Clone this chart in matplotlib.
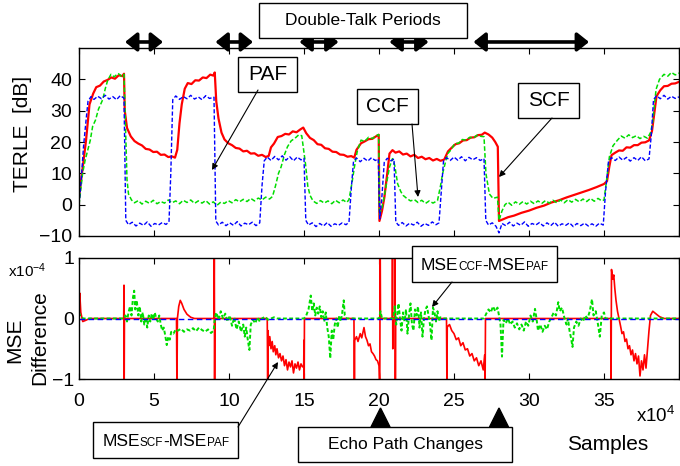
import numpy as np
import matplotlib
matplotlib.use('Agg')
import matplotlib.pyplot as plt
from matplotlib.patches import Rectangle, FancyArrowPatch, Polygon
from matplotlib.offsetbox import TextArea, HPacker, AnnotationBbox

W, H = 680, 466

# TERLE [dB] vs samples (x1e4)
scf_terle = [(0, 2.5), (0.2, 10), (0.47, 20.6), (0.7, 32), (0.95, 35.5), (1.15, 37.5), (1.4, 38.0), (1.65, 39.3),
             (1.9, 39.8), (2.15, 40.6), (2.4, 40.2), (2.65, 41.3), (2.9, 41.0), (3.0, 41.8),
             (3.05, 30), (3.2, 24.5), (3.45, 21.8), (3.7, 20.3), (3.95, 19.5), (4.2, 18.9), (4.45, 17.8), (4.7, 17.6),
             (4.95, 16.8), (5.2, 16.9), (5.45, 15.9), (5.7, 16.0), (5.95, 15.2), (6.2, 15.4), (6.4, 15.0),
             (6.55, 17.5), (6.7, 26), (6.85, 32), (7.05, 37.0), (7.25, 38.8), (7.5, 38.5), (7.75, 39.7), (8.0, 39.6),
             (8.25, 40.6), (8.5, 40.4), (8.75, 41.5), (8.95, 41.2), (9.05, 42.2),
             (9.15, 33), (9.3, 27.5), (9.5, 23), (9.7, 20.8), (9.95, 19.6), (10.2, 19.0), (10.45, 18.1), (10.7, 17.9),
             (10.95, 17.0), (11.2, 17.2), (11.45, 16.3), (11.7, 16.4), (11.95, 15.6), (12.2, 15.9), (12.45, 15.2), (12.65, 15.6),
             (12.8, 18.3), (13.0, 19.5), (13.25, 21.6), (13.5, 21.9), (13.75, 22.6), (14.0, 22.4), (14.25, 23.4), (14.5, 23.1),
             (14.75, 24.0), (14.95, 24.6),
             (15.15, 22.8), (15.4, 21.3), (15.65, 20.6), (15.9, 19.3), (16.15, 19.1), (16.4, 18.0), (16.65, 17.8), (16.9, 16.9),
             (17.15, 16.8), (17.4, 16.0), (17.65, 15.9), (17.9, 15.3), (18.15, 15.5), (18.35, 15.0),
             (18.5, 17.5), (18.8, 19.6), (19.05, 20.2), (19.3, 20.9), (19.55, 21.0), (19.8, 21.8), (19.98, 22.3),
             (20.03, -5.2), (20.2, -2), (20.36, 2.4), (20.55, 10), (20.7, 16.3), (20.9, 17.4), (21.1, 16.6), (21.35, 17.0),
             (21.6, 16.0), (21.85, 16.3), (22.1, 15.4), (22.35, 15.9), (22.6, 14.9), (22.85, 15.3), (23.1, 14.5), (23.35, 14.9),
             (23.6, 14.1), (23.85, 14.6), (24.1, 14.0), (24.35, 14.4),
             (24.6, 17.0), (24.85, 18.2), (25.1, 19.3), (25.35, 19.6), (25.6, 20.5), (25.85, 20.6), (26.1, 21.4), (26.35, 21.5),
             (26.6, 22.2), (26.85, 22.3), (27.05, 23.0), (27.3, 22.4), (27.55, 21.4), (27.75, 20.0), (27.92, 18.5),
             (28.0, -5.2), (28.3, -4.6), (28.6, -4.0), (29.0, -3.5), (29.5, -2.6), (30.0, -1.9), (30.5, -1.0), (31.0, -0.3),
             (31.5, 0.7), (32.0, 1.4), (32.5, 2.3), (33.0, 3.1), (33.5, 3.9), (34.0, 4.7), (34.5, 5.6), (35.0, 6.6), (35.2, 7.5),
             (35.35, 12), (35.5, 15.8), (35.75, 16.6), (36.0, 17.3), (36.25, 17.2), (36.5, 18.3), (36.75, 18.2), (37.0, 19.0),
             (37.25, 19.0), (37.5, 19.8), (37.75, 19.9), (38.0, 20.5), (38.2, 23.5), (38.35, 29), (38.5, 34.6), (38.75, 36.5),
             (39.0, 37.8), (39.25, 37.9), (39.5, 38.6), (39.75, 38.7), (40.0, 39.2)]

ccf_terle = [(0, 0), (0.1, 4), (0.24, 10), (0.4, 14), (0.58, 17.4), (0.75, 20.5), (0.91, 25), (1.1, 27), (1.3, 30.5),
             (1.58, 33.5), (1.75, 37), (1.9, 39.5), (2.13, 41.6), (2.35, 40.8), (2.6, 41.9), (2.85, 41.0), (3.0, 41.6),
             (3.1, 25), (3.2, 8), (3.3, 3.4), (3.5, 1.5), (3.7, 0.6), (3.95, 1.3), (4.2, 0.2), (4.45, 1.1), (4.7, 0.4),
             (4.95, 1.4), (5.2, 0.3), (5.45, 1.0), (5.7, 0.5), (5.95, 1.5), (6.2, 0.6), (6.45, 1.2), (6.7, 0.3), (6.95, 1.4),
             (7.2, 0.7), (7.45, 1.5), (7.7, 0.4), (7.95, 1.2), (8.2, 0.5), (8.45, 1.3), (8.7, 0.2), (8.95, 0.9), (9.2, -0.2),
             (9.45, 0.8), (9.7, 0.4), (9.95, 1.3), (10.2, 0.6), (10.45, 1.6), (10.7, 0.9), (10.95, 1.7), (11.2, 1.0),
             (11.45, 2.0), (11.7, 1.2), (11.95, 2.1), (12.2, 1.5), (12.45, 2.4), (12.7, 1.8), (12.9, 2.6),
             (13.1, 6), (13.3, 10), (13.47, 12), (13.7, 16), (13.9, 18.5), (14.15, 20.4), (14.4, 21.2), (14.65, 22.3), (14.85, 22.0),
             (15.1, 13), (15.25, 6), (15.4, 3.0), (15.6, 1.2), (15.85, 0.4), (16.1, 1.3), (16.35, 0.5), (16.6, 1.2), (16.85, 0.3),
             (17.1, 1.4), (17.35, 0.6), (17.6, 1.5), (17.85, 0.7), (18.0, 1.6),
             (18.2, 7), (18.36, 12), (18.55, 17), (18.8, 20.6), (19.05, 20.2), (19.3, 21.5), (19.55, 21.1), (19.8, 22.0), (19.98, 22.4),
             (20.03, -3.2), (20.2, -1), (20.36, 3), (20.55, 8), (20.7, 12), (20.9, 14.7), (21.05, 12.5), (21.24, 6.7), (21.45, 4.2),
             (21.6, 3.0), (21.85, 2.0), (22.1, 1.2), (22.36, 1.6), (22.6, 0.7), (22.85, 1.4), (23.1, 0.4), (23.35, 1.2), (23.6, 0.5), (23.9, 1.3),
             (24.1, 6), (24.24, 9.9), (24.4, 13), (24.58, 16.3), (24.8, 17.5), (25.05, 19.5), (25.3, 19.6), (25.55, 20.8), (25.8, 20.6),
             (26.05, 21.5), (26.3, 21.3), (26.55, 22.2), (26.8, 21.8), (27.0, 21.7),
             (27.13, 9.9), (27.36, 3.4), (27.6, 2.0), (27.9, 2.4), (28.0, -5.0), (28.2, -2.0), (28.4, 0.0), (28.6, 0.8), (28.85, -0.2),
             (29.1, 0.9), (29.35, 0.1), (29.6, 1.0), (29.85, 0.2), (30.1, 1.1), (30.35, 0.3), (30.6, 1.2), (30.85, 0.4), (31.1, 1.3),
             (31.35, 0.5), (31.6, 1.4), (31.85, 0.6), (32.1, 1.5), (32.35, 0.6), (32.6, 1.6), (32.85, 0.8), (33.1, 1.7), (33.35, 0.9),
             (33.6, 1.8), (33.85, 1.0), (34.1, 2.0), (34.35, 1.1), (34.6, 2.0), (34.85, 1.2), (35.0, 1.5),
             (35.15, 7), (35.36, 15.3), (35.6, 18.8), (35.9, 20.6), (36.15, 21.9), (36.4, 21.2), (36.65, 22.3), (36.9, 21.4),
             (37.15, 22.0), (37.4, 21.1), (37.65, 21.8), (37.9, 21.2), (38.1, 23), (38.24, 26), (38.47, 36.8), (38.7, 40.0),
             (39.0, 41.6), (39.25, 41.0), (39.5, 42.2), (39.75, 41.4), (40.0, 42.0)]

paf_terle = [(0, 0), (0.15, 8), (0.3, 18.5), (0.45, 26), (0.6, 33), (0.8, 34.5), (1.0, 33.6), (1.25, 34.6), (1.5, 33.8),
             (1.75, 34.9), (2.0, 33.7), (2.25, 34.5), (2.5, 33.5), (2.75, 34.8), (3.0, 34.0),
             (3.12, -5.0), (3.3, -6.4), (3.55, -5.6), (3.8, -6.8), (4.05, -5.9), (4.3, -6.6), (4.55, -5.5), (4.8, -6.9),
             (5.05, -6.0), (5.3, -6.5), (5.55, -5.7), (5.8, -6.3), (6.0, -5.5),
             (6.12, 10), (6.25, 33.5), (6.45, 34.7), (6.7, 33.6), (6.95, 34.5), (7.2, 33.8), (7.45, 34.9), (7.7, 33.7),
             (7.95, 34.4), (8.2, 33.5), (8.45, 34.8), (8.7, 33.9), (9.0, 34.3),
             (9.12, -5.2), (9.3, -6.5), (9.55, -5.6), (9.8, -6.7), (10.05, -5.8), (10.3, -6.6), (10.55, -5.4), (10.8, -6.8),
             (11.05, -5.9), (11.3, -6.4), (11.55, -5.6), (11.8, -6.7), (12.05, -5.8),
             (12.2, 6), (12.35, 14.0), (12.55, 15.2), (12.8, 14.1), (13.05, 15.4), (13.3, 14.3), (13.55, 15.6), (13.8, 14.2),
             (14.05, 15.3), (14.3, 14.0), (14.55, 15.2), (14.8, 14.3), (15.0, 14.8),
             (15.12, -5.0), (15.3, -6.5), (15.55, -5.8), (15.8, -7.0), (16.05, -6.0), (16.3, -6.8), (16.55, -5.7), (16.8, -6.9),
             (17.05, -6.1), (17.3, -6.6), (17.55, -5.8), (17.8, -6.4), (18.0, -5.6),
             (18.15, 5), (18.3, 13.8), (18.5, 14.9), (18.75, 13.7), (19.0, 14.8), (19.25, 13.9), (19.5, 15.0), (19.75, 14.1), (19.95, 14.6),
             (20.05, -4.5), (20.2, 3), (20.35, 13.5), (20.55, 14.8), (20.8, 14.0), (21.0, 14.6),
             (21.12, -5.5), (21.3, -6.6), (21.55, -5.7), (21.8, -6.8), (22.05, -5.9), (22.3, -6.5), (22.55, -5.6), (22.8, -6.9),
             (23.05, -6.0), (23.3, -6.6), (23.55, -5.5), (23.8, -6.4), (24.0, -5.8),
             (24.15, 4), (24.3, 13.9), (24.5, 15.0), (24.75, 14.1), (25.0, 15.2), (25.25, 14.2), (25.5, 15.3), (25.75, 14.0),
             (26.0, 15.1), (26.25, 14.3), (26.5, 15.0), (26.75, 14.1), (27.0, 14.7),
             (27.12, -5.0), (27.3, -6.5), (27.55, -5.8), (27.8, -6.9), (28.0, -9.0), (28.2, -6.0), (28.45, -6.7), (28.7, -5.6),
             (28.95, -6.8), (29.2, -5.9), (29.45, -6.6), (29.7, -5.5), (29.95, -6.9), (30.2, -6.0), (30.45, -6.5), (30.7, -5.7),
             (30.95, -6.8), (31.2, -5.8), (31.45, -6.7), (31.7, -5.6), (31.95, -6.9), (32.2, -6.1), (32.45, -6.6), (32.7, -5.8),
             (32.95, -7.0), (33.2, -6.0), (33.45, -6.7), (33.7, -5.9), (33.95, -6.8), (34.2, -6.1), (34.45, -6.9), (34.7, -5.9), (34.95, -6.5),
             (35.1, 4), (35.3, 13.8), (35.5, 15.0), (35.75, 14.1), (36.0, 15.2), (36.25, 14.2), (36.5, 15.1), (36.75, 13.9),
             (37.0, 15.0), (37.25, 14.1), (37.5, 15.3), (37.75, 14.0), (38.0, 14.6),
             (38.15, 22), (38.3, 33.5), (38.5, 34.8), (38.75, 33.8), (39.0, 34.9), (39.25, 33.7), (39.5, 34.6), (39.75, 33.9), (40.0, 34.4)]

# MSE difference (x1e-4)
scf_minus_paf = [(0, 0), (0.05, 0.42), (0.12, 0.1), (0.25, -0.05), (0.45, -0.03), (0.7, 0.0), (2.98, 0.0), (3.0, 0.55),
                 (3.01, -1.2), (3.03, 0.0), (6.5, 0.0), (6.53, -1.2), (6.56, 0.0), (6.65, 0.2), (6.75, 0.3), (6.85, 0.25),
                 (7.0, 0.15), (7.2, 0.07), (7.45, 0.02), (7.7, 0.0), (9.0, 0.0), (9.02, 1.2), (9.04, -1.2), (9.06, 0.0),
                 (12.55, 0.0), (12.58, -1.2), (12.6, -0.2), (12.65, -0.45), (12.72, -0.3), (12.8, -0.5), (12.88, -0.38),
                 (12.95, -0.55), (13.05, -0.45), (13.12, -0.6), (13.2, -0.5), (13.3, -0.65), (13.4, -0.58), (13.5, -0.7),
                 (13.6, -0.62), (13.7, -0.78), (13.8, -0.68), (13.9, -0.85), (14.0, -0.72), (14.1, -0.8), (14.2, -0.7),
                 (14.3, -0.9), (14.4, -0.75), (14.5, -0.82), (14.6, -0.72), (14.7, -0.85), (14.8, -0.75), (14.9, -0.8),
                 (14.98, -0.78), (15.0, -0.36), (15.01, -1.2), (15.03, 0.0),
                 (18.33, 0.0), (18.36, -1.2), (18.38, -0.36), (18.5, -0.3), (18.6, -0.38), (18.75, -0.25), (18.85, -0.32),
                 (19.0, -0.15), (19.1, -0.3), (19.2, -0.36), (19.3, -0.45), (19.4, -0.42), (19.5, -0.55), (19.6, -0.58),
                 (19.7, -0.62), (19.8, -0.68), (19.9, -0.7), (20.0, -0.78), (20.05, -1.2), (20.08, 1.2), (20.1, 0.0),
                 (20.88, 0.0), (20.9, 1.2), (20.92, -0.5), (20.95, 0.0), (21.05, 0.0), (21.07, 1.2), (21.09, -1.2), (21.11, 0.0),
                 (24.5, 0.0), (24.53, -1.2), (24.55, -0.14), (24.7, -0.1), (24.85, -0.2), (25.0, -0.25), (25.15, -0.35),
                 (25.3, -0.32), (25.45, -0.45), (25.6, -0.4), (25.75, -0.52), (25.9, -0.5), (26.05, -0.62), (26.2, -0.58),
                 (26.35, -0.7), (26.5, -0.65), (26.65, -0.78), (26.8, -0.7), (26.95, -0.85), (27.05, -0.6), (27.07, -1.2),
                 (27.1, 0.0), (35.45, 0.0), (35.47, -1.2), (35.5, 0.81), (35.58, 0.65), (35.65, 0.72), (35.72, 0.5),
                 (35.8, 0.3), (35.9, 0.12), (36.0, 0.0), (36.1, -0.12), (36.2, -0.25), (36.3, -0.22), (36.4, -0.38),
                 (36.5, -0.34), (36.6, -0.5), (36.7, -0.45), (36.8, -0.6), (36.9, -0.52), (37.0, -0.7), (37.1, -0.58),
                 (37.2, -0.75), (37.3, -0.62), (37.4, -0.95), (37.5, -0.7), (37.6, -0.85), (37.7, -0.6), (37.8, -0.82),
                 (37.9, -0.5), (38.0, -0.2), (38.1, 0.05), (38.25, 0.12), (38.45, 0.08), (38.7, 0.03), (39.0, 0.0), (40.0, 0.0)]

ccf_minus_paf = [(0, 0.1), (0.1, 0.03), (0.3, 0.0), (3.0, 0.0), (3.1, 0.05), (3.2, -0.05), (3.3, 0.1), (3.4, 0.2), (3.5, 0.05),
                 (3.6, 0.35), (3.68, 0.46), (3.75, 0.15), (3.85, 0.3), (3.95, 0.05), (4.05, 0.2), (4.15, -0.05), (4.25, 0.1),
                 (4.35, -0.1), (4.45, 0.02), (4.55, -0.15), (4.65, 0.05), (4.75, -0.05), (4.85, 0.08), (4.95, -0.02),
                 (5.05, 0.1), (5.15, 0.0), (5.25, -0.05), (5.35, 0.05), (5.45, -0.1), (5.55, -0.2), (5.65, -0.15),
                 (5.75, -0.28), (5.85, -0.44), (5.95, -0.3), (6.05, -0.35), (6.15, -0.22), (6.3, -0.25), (6.45, -0.18),
                 (6.6, -0.2), (6.8, -0.17), (7.0, -0.22), (7.2, -0.18), (7.4, -0.2), (7.6, -0.16), (7.8, -0.21), (8.0, -0.15),
                 (8.2, -0.19), (8.4, -0.22), (8.6, -0.18), (8.8, -0.24), (8.98, -0.2), (9.05, 0.0),
                 (9.15, 0.1), (9.3, -0.02), (9.45, 0.12), (9.6, 0.0), (9.75, 0.08), (9.9, -0.05), (10.05, 0.05), (10.2, -0.12),
                 (10.35, 0.02), (10.5, -0.18), (10.65, -0.05), (10.8, -0.22), (10.95, -0.1), (11.05, -0.3), (11.15, -0.15),
                 (11.25, -0.35), (11.36, -0.52), (11.45, -0.1), (11.6, -0.02), (11.75, -0.08), (11.9, 0.02), (12.05, -0.05),
                 (12.2, 0.0), (12.4, 0.03), (12.6, -0.02), (12.8, 0.0), (13.0, 0.02), (13.2, 0.0), (15.0, 0.0),
                 (15.15, 0.05), (15.3, 0.15), (15.45, 0.38), (15.55, 0.12), (15.65, 0.25), (15.75, 0.05), (15.85, 0.18),
                 (15.95, 0.08), (16.05, 0.2), (16.15, 0.02), (16.25, 0.12), (16.35, -0.05), (16.45, 0.1), (16.55, -0.15),
                 (16.65, -0.3), (16.75, -0.66), (16.85, -0.2), (16.95, -0.35), (17.05, -0.1), (17.15, 0.0), (17.25, -0.15),
                 (17.35, 0.05), (17.45, -0.05), (17.55, 0.1), (17.65, 0.3), (17.72, 0.05), (17.85, 0.0), (20.0, 0.0),
                 (20.1, 0.12), (20.2, 0.0), (20.95, 0.0), (21.05, 0.2), (21.15, -0.1), (21.3, 0.25), (21.4, 0.0), (21.5, -0.2),
                 (21.6, 0.1), (21.7, -0.05), (21.8, 0.15), (21.9, -0.25), (22.0, 0.05), (22.1, 0.25), (22.2, -0.1),
                 (22.3, -0.2), (22.4, 0.15), (22.5, 0.05), (22.6, 0.2), (22.7, -0.15), (22.8, 0.1), (22.9, -0.3), (23.0, 0.0),
                 (23.1, 0.15), (23.2, 0.2), (23.3, 0.05), (23.4, -0.1), (23.5, -0.36), (23.6, 0.18), (23.7, 0.1), (23.8, -0.05),
                 (23.9, 0.12), (24.0, -0.05), (24.1, 0.02), (24.3, 0.0), (27.0, 0.0),
                 (27.15, 0.08), (27.3, 0.15), (27.45, 0.1), (27.6, 0.2), (27.75, 0.12), (27.9, 0.18), (28.0, 0.05), (28.1, -0.1),
                 (28.2, -0.63), (28.3, -0.02), (28.45, -0.08), (28.6, 0.0), (28.75, -0.1), (28.9, -0.05), (29.05, -0.15),
                 (29.2, -0.08), (29.35, -0.18), (29.5, -0.1), (29.65, -0.2), (29.8, -0.05), (29.95, -0.12), (30.1, 0.05),
                 (30.25, -0.05), (30.4, 0.16), (30.5, 0.0), (30.6, -0.2), (30.75, -0.1), (30.9, -0.22), (31.05, -0.12),
                 (31.2, -0.18), (31.35, -0.05), (31.5, 0.02), (31.65, 0.1), (31.8, 0.05), (31.95, 0.27), (32.05, 0.12),
                 (32.2, 0.18), (32.35, 0.02), (32.5, -0.1), (32.6, 0.0), (32.7, -0.2), (32.8, -0.32), (32.9, -0.47),
                 (33.0, -0.15), (33.15, -0.05), (33.3, -0.12), (33.45, 0.0), (33.6, -0.05), (33.75, 0.05), (33.9, 0.0),
                 (34.05, 0.12), (34.2, 0.32), (34.3, 0.05), (34.45, 0.12), (34.6, -0.1), (34.72, -0.3), (34.85, 0.05),
                 (35.0, 0.1), (35.1, 0.0), (40.0, 0.0)]

paf_minus_paf = [(0, 0.0), (40, 0.0)]

# annotations
double_talk = [(3.07, 5.6), (9.1, 11.6), (14.7, 17.3), (20.7, 23.3), (26.3, 34.0)]
echo_changes = [20.1, 28.0]

plt.rcParams['font.family'] = ['Liberation Sans', 'DejaVu Sans']
plt.rcParams['mathtext.default'] = 'regular'

def fx(px):
    return px / W

def fy(py):
    return 1 - py / H

fig = plt.figure(figsize=(W / 100, H / 100), dpi=100)
ax1 = fig.add_axes([fx(79), fy(236), (679 - 79) / W, (236 - 48) / H])
ax2 = fig.add_axes([fx(79), fy(379), (679 - 79) / W, (379 - 258) / H])

red, green, blue = '#ff0000', '#00dd00', '#0000ff'

x, y = np.array(scf_terle).T
ax1.plot(x, y, color=red, lw=1.6)
x, y = np.array(ccf_terle).T
ax1.plot(x, y, color=green, lw=1.1, ls=(0, (3, 1.5)))
x, y = np.array(paf_terle).T
ax1.plot(x, y, color=blue, lw=1.0, ls=(0, (3, 1.5)))

x, y = np.array(scf_minus_paf).T
ax2.plot(x, y, color=red, lw=1.2)
x, y = np.array(ccf_minus_paf).T
ax2.plot(x, y, color=green, lw=1.4, ls=(0, (2, 1.2)))
x, y = np.array(paf_minus_paf).T
ax2.plot(x, y, color=blue, lw=1.0, ls=(0, (4, 2.5)))

for ax in (ax1, ax2):
    ax.set_xlim(0, 40)
    ax.set_xticks(np.arange(0, 41, 5))
    ax.tick_params(direction='in', top=True, right=True, length=4, labelsize=14, width=0.8)
    for s in ax.spines.values():
        s.set_linewidth(1.0)

ax1.set_ylim(-10, 50)
ax1.set_yticks([-10, 0, 10, 20, 30, 40])
ax1.tick_params(labelbottom=False, pad=5)
ax2.set_ylim(-1, 1)
ax2.set_yticks([-1, 0, 1])
ax2.set_xticklabels(['0', '5', '10', '15', '20', '25', '30', '35', ''])
ax2.tick_params(axis='x', pad=10)

fig.text(fx(23), fy(134), 'TERLE  [dB]', rotation=90, ha='center', va='center', fontsize=15)
fig.text(fx(15), fy(340), 'MSE', rotation=90, ha='center', va='center', fontsize=15)
fig.text(fx(40), fy(338), 'Difference', rotation=90, ha='center', va='center', fontsize=15)
fig.text(fx(8), fy(277), 'x10$^{-4}$', ha='left', va='baseline', fontsize=11)
fig.text(fx(636), fy(422), 'x10$^{4}$', ha='left', va='baseline', fontsize=13.5)
fig.text(fx(608), fy(445), 'Samples', ha='center', va='center', fontsize=15)

# double-talk arrows above the top panel
for a, b in double_talk:
    ax1.annotate('', xy=(b, 1.032), xytext=(a, 1.032), xycoords=('data', 'axes fraction'),
                 arrowprops=dict(arrowstyle='<|-|>,head_length=0.5,head_width=0.4', lw=2.6, color='black',
                                 shrinkA=0, shrinkB=0, mutation_scale=14),
                 annotation_clip=False)

def box(x0, y0, x1, y1):
    fig.add_artist(Rectangle((fx(x0), fy(y1)), (x1 - x0) / W, (y1 - y0) / H, transform=fig.transFigure,
                             facecolor='white', edgecolor='black', lw=1.0, zorder=5))

def arrow(x0, y0, x1, y1):
    fig.add_artist(FancyArrowPatch((fx(x0), fy(y0)), (fx(x1), fy(y1)), transform=fig.transFigure,
                                   arrowstyle='-|>', mutation_scale=9, lw=0.8, color='black',
                                   shrinkA=0, shrinkB=0, zorder=6))

def label(x0, y0, x1, y1, s, size):
    box(x0, y0, x1, y1)
    fig.text(fx((x0 + x1) / 2), fy((y0 + y1) / 2), s, ha='center', va='center', fontsize=size, zorder=7)

label(259, 3, 467, 38, 'Double-Talk Periods', 12.5)
label(238, 57, 297, 92, 'PAF', 15)
label(357, 89, 418, 124, 'CCF', 15)
label(518, 83, 579, 118, 'SCF', 15)
arrow(258, 90, 212, 170)
arrow(412, 124, 418, 197)
arrow(552, 118, 499, 177)

def mse_label(x0, y0, x1, y1, sub):
    box(x0, y0, x1, y1)
    parts = [('MSE', 12.5), (sub, 8.5), ('-MSE', 12.5), ('PAF', 8.5)]
    pack = HPacker(children=[TextArea(t, textprops=dict(fontsize=s)) for t, s in parts],
                   align='baseline', pad=0, sep=0)
    ab = AnnotationBbox(pack, (fx((x0 + x1) / 2), fy((y0 + y1) / 2 + 1)), xycoords='figure fraction',
                        frameon=False, box_alignment=(0.5, 0.5))
    ab.set_zorder(7)
    fig.add_artist(ab)

mse_label(412, 246, 557, 282, 'CCF')
mse_label(93, 422, 238, 458, 'SCF')
arrow(452, 282, 432, 307)
arrow(238, 427, 278, 362)

label(298, 427, 512, 462, 'Echo Path Changes', 12.5)
for xc in echo_changes:
    x0 = ax2.transData.transform((xc, 0))[0]
    fig.add_artist(Polygon([(fx(x0 - 9.5), fy(427)), (fx(x0 + 9.5), fy(427)), (fx(x0), fy(408))],
                           closed=True, transform=fig.transFigure, facecolor='black', edgecolor='black', zorder=8))

fig.savefig('out.png', dpi=100)
